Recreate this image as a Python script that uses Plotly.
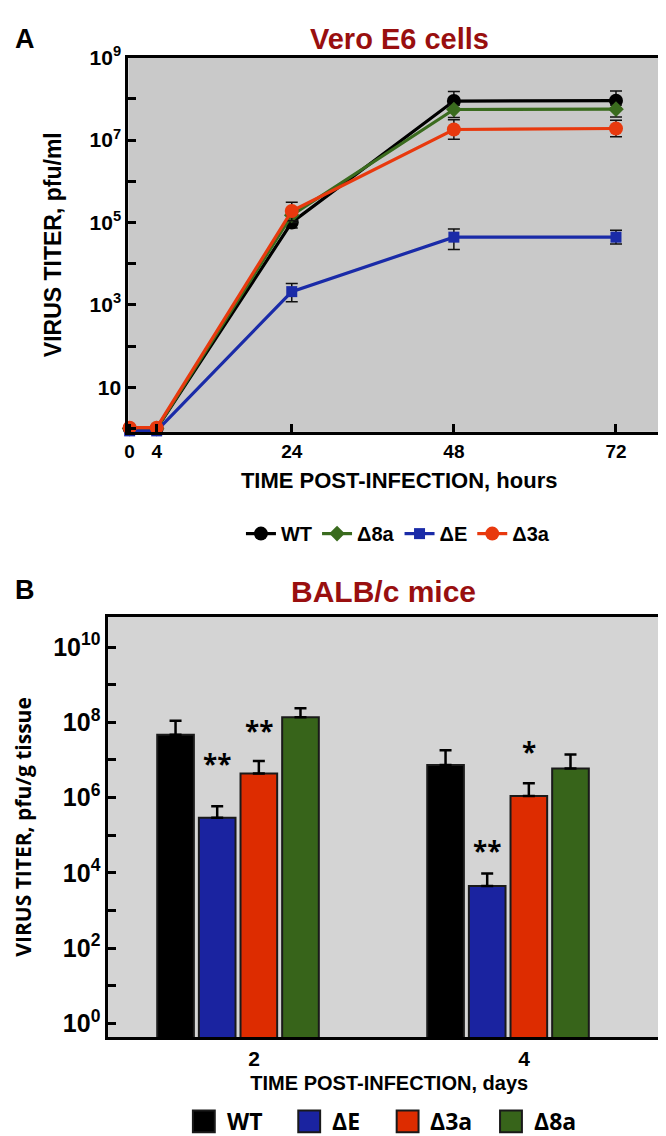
import math
import plotly.graph_objects as go

# ---------------- Panel A data (Vero E6 cells) ----------------
hours = [0, 4, 24, 48, 72]
hour_ticks = [0, 4, 24, 48, 72]

wt_a = [1.0, 1.0, 1.0e5, 8.8e7, 9.0e7]
wt_a_plus = [0, 0, 5.0e4, 6.2e7, 6.5e7]
wt_a_minus = [0, 0, 2.7e4, 3.0e7, 3.0e7]

d8a_a = [1.0, 1.0, 1.5e5, 5.5e7, 5.6e7]
d8a_a_plus = [0, 0, 5.0e4, 1.5e7, 1.5e7]
d8a_a_minus = [0, 0, 5.0e4, 2.0e7, 2.0e7]

dE_a = [0.88, 0.88, 2.1e3, 4.4e4, 4.4e4]
dE_a_plus = [0, 0, 1.2e3, 2.5e4, 2.1e4]
dE_a_minus = [0, 0, 0.9e3, 2.2e4, 1.4e4]

d3a_a = [1.05, 1.05, 1.9e5, 1.8e7, 1.9e7]
d3a_a_plus = [0, 0, 1.2e5, 1.3e7, 1.1e7]
d3a_a_minus = [0, 0, 0.8e5, 0.75e7, 0.7e7]

names_a = ["WT", "Δ8a", "ΔE", "Δ3a"]

yA_major = [10, 1e3, 1e5, 1e7, 1e9]
yA_major_text = ["10", "10<sup>3</sup>", "10<sup>5</sup>", "10<sup>7</sup>", "10<sup>9</sup>"]
yA_minor = [1, 1e2, 1e4, 1e6, 1e8]

# ---------------- Panel B data (BALB/c mice) ----------------
days = [2, 4]
day_labels = ["2", "4"]

wt_b = [4.7e7, 7.4e6]
wt_b_plus = [6.3e7, 1.06e7]

dE_b = [2.9e5, 4.5e3]
dE_b_plus = [3.0e5, 5.1e3]

d3a_b = [4.4e6, 1.1e6]
d3a_b_plus = [5.0e6, 1.3e6]

d8a_b = [1.37e8, 5.9e6]
d8a_b_plus = [0.98e8, 8.1e6]

names_b = ["WT", "ΔE", "Δ3a", "Δ8a"]

# significance marks: (series index in names_b, day index, text)
sig_series = [1, 2, 2, 1]
sig_day = [0, 0, 1, 1]
sig_text = ["**", "**", "*", "**"]

yB_major = [1, 1e2, 1e4, 1e6, 1e8, 1e10]
yB_major_text = ["10<sup>0</sup>", "10<sup>2</sup>", "10<sup>4</sup>",
                 "10<sup>6</sup>", "10<sup>8</sup>", "10<sup>10</sup>"]
yB_minor = [10, 1e3, 1e5, 1e7, 1e9]

# ---------------- Styles ----------------
W, H = 666, 1136
NARROW = "Liberation Sans Narrow, Arial Narrow, Liberation Sans, Arial, sans-serif"
ARIAL = "Liberation Sans, Arial, sans-serif"
OPEN = "Open Sans, Liberation Sans, Arial, sans-serif"
TITLE_RED = "#990F0F"

colors_a = ["#000000", "#3A6B1E", "#1A2BA8", "#E8390E"]
symbols_a = ["circle", "diamond", "square", "circle"]
sizes_a = [14, 12, 11, 14]

colors_b = ["#000000", "#1A23A0", "#DD2C00", "#37641A"]
BARGAP = 0.383
BARGROUPGAP = 0.12
LABEL_OFFSET = 0.12
sig_shift = [42, 30, 31, 23]


def px_x(p):
    return p / W


def px_y(p):
    return 1 - p / H


xA_dom = [px_x(117), px_x(662)]
yA_dom = [px_y(415), px_y(36)]
xB_dom = [px_x(97), px_x(662)]
yB_dom = [px_y(1028), px_y(602)]

fig = go.Figure()

series_a = [
    (wt_a, wt_a_plus, wt_a_minus),
    (d8a_a, d8a_a_plus, d8a_a_minus),
    (dE_a, dE_a_plus, dE_a_minus),
    (d3a_a, d3a_a_plus, d3a_a_minus),
]
for i, (vals, plus, minus) in enumerate(series_a):
    fig.add_trace(go.Scatter(
        x=hours, y=vals, name=names_a[i], mode="lines+markers",
        line=dict(color=colors_a[i], width=3.2),
        marker=dict(color=colors_a[i], symbol=symbols_a[i], size=sizes_a[i]),
        error_y=dict(type="data", array=plus, arrayminus=minus, symmetric=False,
                     color="#111111", thickness=1.5, width=6),
        cliponaxis=False, xaxis="x", yaxis="y", legend="legend",
    ))

series_b = [(wt_b, wt_b_plus), (dE_b, dE_b_plus), (d3a_b, d3a_b_plus), (d8a_b, d8a_b_plus)]
for i, (vals, plus) in enumerate(series_b):
    fig.add_trace(go.Bar(
        x=days, y=vals, name=names_b[i], showlegend=False,
        marker=dict(color=colors_b[i], line=dict(color="#1a1a1a", width=2)),
        error_y=dict(type="data", array=plus, arrayminus=[0] * len(plus), symmetric=False,
                     color="#000000", thickness=2.5, width=6),
        xaxis="x2", yaxis="y2",
    ))

annotations = []
# significance asterisks, placed over the bars using the group geometry
nser = len(names_b)
slot = (days[1] - days[0]) * (1 - BARGAP) / nser
for k in range(len(sig_text)):
    s, d = sig_series[k], sig_day[k]
    vals, plus = series_b[s]
    xc = days[d] + (s - (nser - 1) / 2) * slot
    yt = math.log10(vals[d] + plus[d])
    annotations.append(dict(x=xc, y=yt, xref="x2", yref="y2", text=sig_text[k],
                            showarrow=False, yanchor="middle", yshift=sig_shift[k],
                            font=dict(family=OPEN, size=26, color="#000", weight="bold")))

# panel titles and letters
annotations += [
    dict(x=(xA_dom[0] + xA_dom[1]) / 2, y=px_y(17), xref="paper", yref="paper",
         text="Vero E6 cells", showarrow=False, yanchor="middle",
         font=dict(family=NARROW, size=29, color=TITLE_RED, weight="bold")),
    dict(x=(xB_dom[0] + xB_dom[1]) / 2 - 0.008, y=px_y(577), xref="paper", yref="paper",
         text="BALB/c mice", showarrow=False, yanchor="middle",
         font=dict(family=NARROW, size=30, color=TITLE_RED, weight="bold")),
    dict(x=px_x(1), y=px_y(17), xref="paper", yref="paper", text="A", showarrow=False,
         xanchor="left", yanchor="middle",
         font=dict(family=ARIAL, size=27, color="#000", weight="bold")),
    dict(x=px_x(1), y=px_y(575), xref="paper", yref="paper", text="B", showarrow=False,
         xanchor="left", yanchor="middle",
         font=dict(family=ARIAL, size=27, color="#000", weight="bold")),
]

# manual legend for panel B (large square swatches)
leg_left = [182, 288, 387, 491]
SQ = 22
LEG_Y = 1113
shapes = [dict(type="rect", xref="x2 domain", yref="y2 domain", x0=0, x1=1, y0=0, y1=1,
               fillcolor="#D4D4D4", line=dict(width=0), layer="below")]
for i, nm in enumerate(names_b):
    x0 = leg_left[i]
    shapes.append(dict(type="rect", xref="paper", yref="paper",
                       x0=px_x(x0), x1=px_x(x0 + SQ),
                       y0=px_y(LEG_Y + SQ / 2), y1=px_y(LEG_Y - SQ / 2),
                       fillcolor=colors_b[i], line=dict(color="#1a1a1a", width=2)))
    annotations.append(dict(x=px_x(x0 + SQ + 10), y=px_y(LEG_Y), xref="paper", yref="paper",
                            text=nm, showarrow=False, xanchor="left", yanchor="middle",
                            font=dict(family=OPEN, size=23, color="#000", weight="bold")))

tick_common = dict(ticks="inside", ticklen=8, tickwidth=3, tickcolor="#000",
                   showline=True, linewidth=3, linecolor="#000",
                   showgrid=False, zeroline=False)

fig.update_layout(
    width=W, height=H,
    margin=dict(l=0, r=0, t=0, b=0),
    paper_bgcolor="white",
    plot_bgcolor="#C9C9C9",
    barmode="group", bargap=BARGAP, bargroupgap=BARGROUPGAP,
    annotations=annotations, shapes=shapes,
    legend=dict(orientation="h", x=0.583, y=px_y(518), xanchor="center", yanchor="middle",
                font=dict(family=NARROW, size=20, color="#000", weight="bold"),
                bgcolor="rgba(0,0,0,0)", itemwidth=30, tracegroupgap=0),
    xaxis=dict(domain=xA_dom, anchor="y", range=[-0.2, 80], tickmode="array",
               tickvals=hour_ticks, ticktext=[str(h) for h in hour_ticks],
               mirror=True, **tick_common,
               tickfont=dict(family=NARROW, size=19, color="#000", weight="bold"),
               title=dict(text="TIME POST-INFECTION, hours", standoff=12,
                          font=dict(family=NARROW, size=22, color="#000", weight="bold"))),
    yaxis=dict(domain=yA_dom, anchor="x", type="log", range=[-0.08, 9.0], tickmode="array",
               tickvals=yA_major, ticktext=yA_major_text, mirror=True, **tick_common,
               minor=dict(tickmode="array", tickvals=yA_minor, ticks="inside", ticklen=8,
                          tickwidth=3, tickcolor="#000", showgrid=False),
               tickfont=dict(family=NARROW, size=21, color="#000", weight="bold"),
               title=dict(text="VIRUS TITER, pfu/ml", standoff=22,
                          font=dict(family=NARROW, size=23, color="#000", weight="bold"))),
    xaxis2=dict(domain=xB_dom, anchor="y2", range=[1.04, 5.2], tickmode="array",
                tickvals=[d + LABEL_OFFSET for d in days], ticktext=day_labels,
                ticks="", showline=True, linewidth=3, linecolor="#000", mirror=True,
                showgrid=False, zeroline=False,
                tickfont=dict(family=ARIAL, size=21, color="#000", weight="bold"),
                title=dict(text="TIME POST-INFECTION, days", standoff=8,
                           font=dict(family=ARIAL, size=20, color="#000", weight="bold"))),
    yaxis2=dict(domain=yB_dom, anchor="x2", type="log", range=[-0.37, 10.81], tickmode="array",
                tickvals=yB_major, ticktext=yB_major_text, mirror="ticks", **tick_common,
                minor=dict(tickmode="array", tickvals=yB_minor, ticks="inside", ticklen=8,
                           tickwidth=3, tickcolor="#000", showgrid=False),
                tickfont=dict(family=NARROW, size=25, color="#000", weight="bold"),
                title=dict(text="VIRUS TITER, pfu/g tissue", standoff=16,
                           font=dict(family=OPEN, size=21, color="#000", weight="bold"))),
)

fig.write_html("out.html")
